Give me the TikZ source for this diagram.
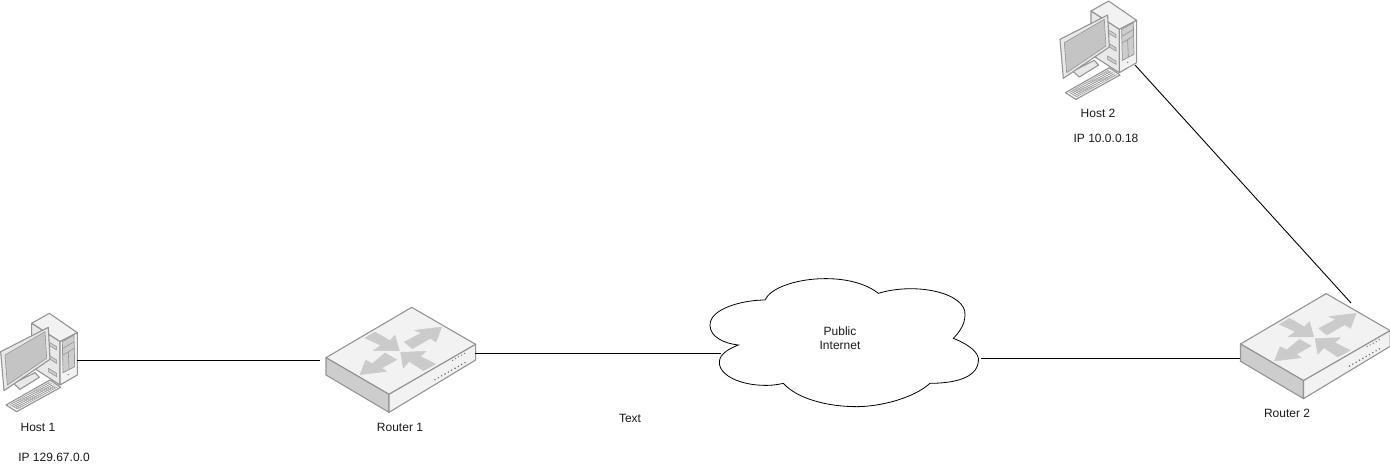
\documentclass[tikz,border=0pt]{standalone}
\usepackage{fontspec}
\setmainfont{Liberation Sans}
\usetikzlibrary{calc}
\definecolor{edgegray}{HTML}{949494}
\definecolor{topgray}{HTML}{F2F2F2}
\definecolor{sidegray}{HTML}{CDCDCD}
\definecolor{arrowgray}{HTML}{CBCBCB}
\definecolor{screengray}{HTML}{C4C4C4}
\definecolor{framegray}{HTML}{E8E8E8}
\tikzset{
  anchorbox/.style={inner sep=0pt,outer sep=0pt,draw=none,fill=none},
  label/.style={font=\fontsize{12}{14.4}\selectfont,inner sep=0pt,align=center,text=black!90},
  link/.style={draw=black,line width=0.9pt},
  part/.style={draw=edgegray,line width=1.1pt,line join=round},
  arrowshape/.style={fill=arrowgray,draw=arrowgray,line width=0.5pt,line join=round},
  pics/routericon/.style={code={
    \path[part,fill=topgray] (305,37)--(48,188)--(237,298)--(497,148)--cycle;
    \path[part,fill=sidegray] (48,188)--(237,298)--(237,352)--(48,240)--cycle;
    \path[part,fill=topgray] (237,298)--(497,148)--(497,195)--(237,352)--cycle;
    \path[arrowshape] (395,96)--(378,141)--(361,130)--(307,161)--(283,141)--(335,114)--(313,106)--cycle;
    \path[arrowshape] (165,129)--(195,111)--(240,137)--(255,121)--(268,167)--(190,167)--(213,151)--cycle;
    \path[arrowshape] (150,239)--(167,196)--(187,206)--(225,174)--(260,194)--(215,219)--(230,229)--cycle;
    \path[arrowshape] (272,172)--(348,169)--(330,184)--(377,207)--(340,227)--(298,199)--(280,219)--cycle;
    \foreach \k in {0,...,9} \fill[edgegray!70!black] ({375+\k*10},{254-\k*5.7}) circle (2.4);
    \foreach \k in {0,...,4} \fill[edgegray!70!black] ({428+\k*9},{196-\k*5.2}) circle (2);
  }},
  pics/pcicon/.style={code={
    \path[part,fill=topgray] (95,70)--(148,40)--(232,98)--(180,125)--cycle;
    \path[part,fill=framegray] (95,70)--(180,125)--(180,255)--(95,200)--cycle;
    \path[part,fill=topgray] (180,125)--(232,98)--(232,225)--(180,255)--cycle;
    \path[draw=edgegray,fill=sidegray,line width=0.7pt] (187,125)--(222,105)--(224,200)--(189,218)--cycle;
    \draw[edgegray,line width=0.6pt] (189,145)--(223,125) (189,165)--(223,145) (205,157)--(207,208);
    \fill[edgegray] (205,224) circle (2.5);
    \foreach \y in {125,165,205} \path[draw=edgegray,fill=sidegray,line width=0.6pt] (145,\y)--(170,{\y+15})--(170,{\y+25})--(145,{\y+10})--cycle;
    \path[part,fill=framegray] (40,250)--(105,218)--(118,232)--(60,268)--cycle;
    \path[part,fill=framegray] (2,155)--(145,82)--(150,178)--(12,272)--cycle;
    \path[draw=edgegray,fill=screengray,line width=0.6pt] (15,165)--(135,95)--(140,175)--(22,255)--cycle;
    \path[part,fill=topgray] (18,315)--(150,240)--(182,262)--(50,335)--cycle;
    \coordinate (kA) at (30,314); \coordinate (kB) at (150,246);
    \coordinate (kC) at (172,261); \coordinate (kD) at (52,327);
    \foreach \t in {0,0.05,...,1} \draw[edgegray,line width=0.45pt] ($(kA)!\t!(kB)$)--($(kD)!\t!(kC)$);
    \foreach \t in {0,0.25,0.5,0.75,1} \draw[edgegray,line width=0.45pt] ($(kA)!\t!(kD)$)--($(kB)!\t!(kC)$);
  }},
  pics/cloudicon/.style={code={
    \path[draw=black,line width=0.8pt,fill=white]
      (195,105) .. controls (225,40) and (440,10) .. (535,85)
      .. controls (650,50) and (800,85) .. (795,150)
      .. controls (795,180) and (775,205) .. (760,220)
      .. controls (810,240) and (840,265) .. (835,290)
      .. controls (830,340) and (760,355) .. (690,355)
      .. controls (640,400) and (540,425) .. (470,425)
      .. controls (380,425) and (290,400) .. (250,355)
      .. controls (170,375) and (55,345) .. (58,290)
      .. controls (60,265) and (90,250) .. (115,240)
      .. controls (70,235) and (30,215) .. (30,180)
      .. controls (30,130) and (130,105) .. (195,105) -- cycle;
  }}
}
\begin{document}
\begin{tikzpicture}[x=1pt,y=-1pt]
\useasboundingbox (0,0) rectangle (1390,473);
% icons
\pic[scale=1/3] at (0,300) {pcicon};
\pic[scale=1/3] at (1059.3,-12.3) {pcicon};
\pic[scale=1/3] at (310,295) {routericon};
\pic[scale=1/3] at (1224.5,281.3) {routericon};
\pic[scale=1/3] at (700,265) {cloudicon};
% invisible anchor boxes of the devices
\node[anchorbox,minimum width=77pt,minimum height=70pt] (host1) at (38.5,360) {};
\node[anchorbox,minimum width=155pt,minimum height=100pt] (router1) at (397.5,353) {};
\node[anchorbox,minimum width=80pt,minimum height=70pt] (host2) at (1095,30) {};
\node[anchorbox,minimum width=111pt,minimum height=110pt] (router2) at (1295.5,358) {};
\node[anchorbox,minimum width=260pt,minimum height=130pt] (cloud) at (851,358) {};
% connectors
\draw[link] (host1.east) -- (host1.east -| router1.west);
\draw[link] (router1.east) -- (router1.east -| cloud.west);
\draw[link] (cloud.east) -- (cloud.east -| router2.west);
\draw[link] (host2.south east) -- (router2.north east);
% labels
\node[label] (lh1) at (38,427) {Host 1};
\node[label] (lip1) at (54,457) {IP 129.67.0.0};
\node[label] (lr1) at (400,427) {Router 1};
\node[label] (ltext) at (630,418) {Text};
\node[label] (lcloud) at (840,338) {Public\\Internet};
\node[label] (lr2) at (1287,413) {Router 2};
\node[label] (lh2) at (1098,113) {Host 2};
\node[label] (lip2) at (1106,138) {IP 10.0.0.18};
\end{tikzpicture}
\end{document}
